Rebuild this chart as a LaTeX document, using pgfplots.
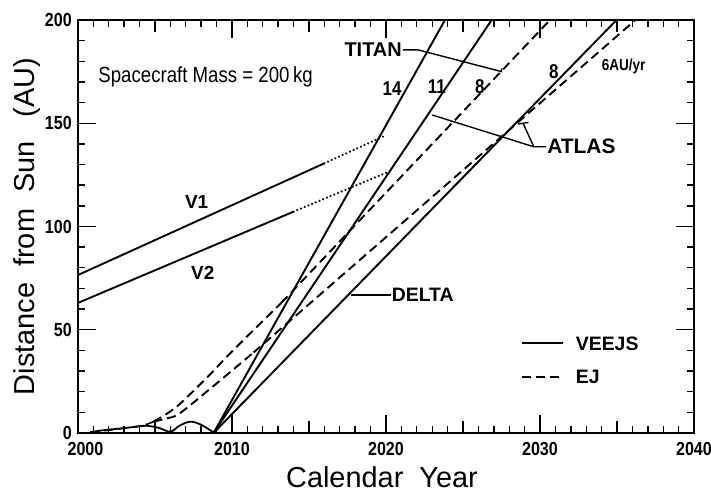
\documentclass[border=0pt]{standalone}
\usepackage{fontspec}
\setmainfont{Liberation Sans}
\newfontfamily\cond[FakeStretch=0.85]{Liberation Sans}
\usepackage{pgfplots}
\pgfplotsset{compat=1.18}

\begin{document}
\begin{tikzpicture}
\begin{axis}[
  width=616bp, height=413bp, scale only axis,
  xmin=2000, xmax=2040, ymin=0, ymax=200,
  xtick={2000,2010,2020,2030,2040},
  xticklabels={\hspace*{15bp}2000,2010,2020,2030,2040},
  ytick={0,50,100,150,200},
  minor x tick num=9, minor y tick num=4,
  major tick length=18bp, minor tick length=7bp,
  tick align=inside,
  axis line style={line width=2.3bp},
  tick style={black, line width=1.4bp},
  /pgf/number format/1000 sep={},
  /pgf/number format/assume math mode=true,
  ticklabel style={font=\cond\bfseries\fontsize{19}{19}\selectfont, inner sep=1bp},
  x tick label style={yshift=-8bp},
  y tick label style={xshift=-5bp},
  xlabel={Calendar\ \ Year},
  ylabel={Distance\ \ from\ \ Sun\ \ \ (AU)},
  label style={font=\fontsize{29}{29}\selectfont},
  xlabel style={at={(axis description cs:0.5,0)}, anchor=base, yshift=-54bp, xshift=-4bp},
  ylabel style={at={(axis description cs:0,0.5)}, anchor=base, yshift=43bp},
  clip=false,
]
\coordinate (O) at (rel axis cs:0,0);

% medium ticks every five years, bottom and top
\pgfplotsinvokeforeach{2005,2015,2025,2035}{
  \draw[line width=1.4bp] (axis cs:#1,0) -- (axis cs:#1,5.8);
  \draw[line width=1.4bp] (axis cs:#1,200) -- (axis cs:#1,194.2);
}

% Voyager 1 and 2
\addplot[black, line width=1.9bp] coordinates {(2000,76.5) (2016,130.6)};
\addplot[black, line width=2.4bp, dash pattern=on 0.01bp off 4bp, line cap=round] coordinates {(2016,130.6) (2020,144.2)};
\addplot[black, line width=1.9bp] coordinates {(2000,63) (2014,107.2)};
\addplot[black, line width=2.4bp, dash pattern=on 0.01bp off 4bp, line cap=round] coordinates {(2014,107.2) (2020.2,126.6)};

% VEEJS inner cruise
\addplot[black, line width=1.8bp, smooth] coordinates {
  (2000.8,0.4) (2001.6,1.3) (2002.5,2.0) (2003.5,2.8) (2004.4,3.5) (2005.2,2.6)
  (2006.0,0.6) (2006.6,3.6) (2007.3,5.5) (2008.0,4.0) (2008.8,0.3)};
% VEEJS escape lines
\addplot[black, line width=1.9bp] coordinates {(2008.8,0) (2023.83,200)};
\addplot[black, line width=1.9bp] coordinates {(2008.8,0) (2026.86,200)};
\addplot[black, line width=1.9bp] coordinates {(2008.8,0) (2034.97,200)};

% EJ trajectories
\addplot[black, line width=1.6bp, dash pattern=on 9bp off 5bp, smooth] coordinates {
  (2000.8,0.3) (2001.6,1.0) (2002.5,1.8) (2003.5,2.8) (2004.3,3.8) (2004.9,5.5)};
\addplot[black, line width=1.9bp, dash pattern=on 9bp off 5bp, smooth] coordinates {
  (2004.9,5.5) (2005.7,9) (2006.6,14) (2008.4,27) (2010,39.5) (2013.2,63)};
\addplot[black, line width=1.9bp, dash pattern=on 9bp off 5bp] coordinates {(2013.2,63) (2030.65,200)};
\addplot[black, line width=1.9bp, dash pattern=on 9bp off 5bp, smooth] coordinates {
  (2004.9,5.5) (2005.7,7) (2006.6,9.5) (2009.0,24) (2011.4,39)};
\addplot[black, line width=1.9bp, dash pattern=on 9bp off 5bp] coordinates {(2011.4,39) (2036.2,200)};

% annotations
\node[anchor=west, font=\cond\fontsize{22}{22}\selectfont] at (axis cs:2001.1,172.4) {Spacecraft Mass = 200\,kg};
\node[font=\bfseries\fontsize{19}{19}\selectfont] at (axis cs:2007.7,112) {V1};
\node[font=\bfseries\fontsize{19}{19}\selectfont] at (axis cs:2008.1,77.5) {V2};

\node[anchor=east, font=\bfseries\fontsize{20}{20}\selectfont, inner sep=1bp] at (axis cs:2021.1,185.5) {TITAN};
\draw[line width=1.4bp] (axis cs:2021.1,185.5) -- (axis cs:2022.1,185.5) -- (axis cs:2027.5,175.0) -- (axis cs:2027.5,176.6);
\node[font=\cond\bfseries\fontsize{20}{20}\selectfont] at (axis cs:2020.4,166.8) {14};
\node[font=\cond\bfseries\fontsize{20}{20}\selectfont] at (axis cs:2023.3,167.7) {11};
\node[font=\cond\bfseries\fontsize{20}{20}\selectfont] at (axis cs:2026.1,167.7) {8};
\node[font=\cond\bfseries\fontsize{20}{20}\selectfont] at (axis cs:2030.9,175) {8};
\node[anchor=west, inner sep=0pt, font=\cond\bfseries\fontsize{16}{16}\selectfont] at (axis cs:2034.0,177.4) {6AU/yr};

\draw[line width=1.4bp] (axis cs:2023.0,154.0) -- (axis cs:2029.6,138.6) -- (axis cs:2030.4,138.6);
\draw[line width=1.4bp] (axis cs:2029.6,138.6) -- (axis cs:2028.9,150);
\draw[line width=1.4bp] (axis cs:2028.55,149.6) -- (axis cs:2029.25,150.4);
\node[anchor=west, inner sep=1bp, font=\bfseries\fontsize{21}{21}\selectfont] at (axis cs:2030.4,138.6) {ATLAS};

\draw[line width=1.4bp] (axis cs:2017.7,66.8) -- (axis cs:2020.3,66.8);
\node[anchor=west, inner sep=1bp, font=\bfseries\fontsize{19.5}{19.5}\selectfont] at (axis cs:2020.3,66.8) {DELTA};

% legend
\draw[line width=1.9bp] (axis cs:2028.8,43.4) -- (axis cs:2031.5,43.4);
\node[anchor=west, font=\bfseries\fontsize{19.5}{19.5}\selectfont] at (axis cs:2032.1,43.4) {VEEJS};
\draw[line width=1.9bp, dash pattern=on 9bp off 5bp] (axis cs:2028.8,27.3) -- (axis cs:2031.5,27.3);
\node[anchor=west, font=\bfseries\fontsize{19.5}{19.5}\selectfont] at (axis cs:2032.1,27.3) {EJ};
\end{axis}
\pgfresetboundingbox
\path[use as bounding box] (O) ++(-78bp,-60bp) rectangle ++(711bp,493bp);
\end{tikzpicture}
\end{document}
